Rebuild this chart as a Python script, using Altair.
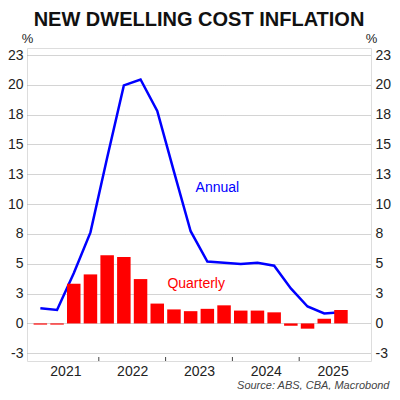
import altair as alt
import pandas as pd

# ---- data ----
quarters = ["2021 Q1", "2021 Q2", "2021 Q3", "2021 Q4",
            "2022 Q1", "2022 Q2", "2022 Q3", "2022 Q4",
            "2023 Q1", "2023 Q2", "2023 Q3", "2023 Q4",
            "2024 Q1", "2024 Q2", "2024 Q3", "2024 Q4",
            "2025 Q1", "2025 Q2", "2025 Q3"]
quarterly = [-0.1, -0.1, 3.4, 4.2, 5.85, 5.7, 3.8, 1.7,
             1.2, 1.05, 1.25, 1.55, 1.1, 1.1, 0.95, -0.2,
             -0.45, 0.4, 1.15]
annual = [1.3, 1.15, 4.3, 7.8, 14.2, 20.4, 20.9, 18.2,
          13.0, 7.9, 5.3, 5.2, 5.1, 5.2, 4.95, 3.0,
          1.45, 0.85, 0.95]
years = [2021, 2022, 2023, 2024, 2025]
y_ticks = [k * 23 / 9 for k in range(-1, 10)]   # labelled 23, 20, 18, ... -3

df = pd.DataFrame({
    "quarter": quarters,
    "idx": list(range(len(quarters))),
    "quarterly": quarterly,
    "annual": annual,
})
year_mid = [4 * i + 1.5 for i in range(len(years))]
year_bounds = pd.DataFrame({"b": [4 * i + 3.5 for i in range(len(years) - 1)]})
labels = pd.DataFrame({
    "text": ["Annual", "Quarterly"],
    "x": [10.6, 9.33],
    "y": [11.6, 3.4],
    "color": ["#0000ff", "#ff0000"],
})

FONT = "Liberation Sans"
W, H = 344, 313
Y_DOMAIN = [-3.22, 23.6]

year_expr = "'' + (2021 + (datum.value - 1.5) / 4)"

x_enc = alt.X(
    "idx:Q",
    scale=alt.Scale(domain=[-0.5, 19.5], nice=False, zero=False),
    axis=alt.Axis(
        values=year_mid, labelExpr=year_expr, ticks=False, grid=False,
        domain=False, labelFontSize=14, labelColor="#222", labelPadding=3,
        labelFont=FONT,
        title="Source: ABS, CBA, Macrobond", titleFontStyle="italic",
        titleFontWeight="normal", titleFontSize=11, titleColor="#444",
        titleAlign="right", titleAnchor="start", titleX=362, titleY=27,
        titleBaseline="alphabetic", titleFont=FONT,
    ),
)

y_scale = alt.Scale(domain=Y_DOMAIN, nice=False, zero=False)
lab_expr = "'' + round(datum.value)"

left_axis = alt.Axis(
    values=y_ticks, labelExpr=lab_expr, orient="left", ticks=False,
    domain=False, grid=True, gridColor="#a8a8a8", gridDash=[1, 1],
    gridWidth=1, labelFontSize=14, labelColor="#222", labelPadding=4,
    labelFont=FONT,
    title="%", titleAngle=0, titleX=0, titleY=-6, titleAlign="center",
    titleBaseline="alphabetic", titleFontSize=13, titleFontWeight="normal",
    titleColor="#222", titleFont=FONT,
)
right_axis = alt.Axis(
    values=y_ticks, labelExpr=lab_expr, orient="right", ticks=False,
    domain=False, grid=False, labelFontSize=14, labelColor="#222",
    labelPadding=4, labelFont=FONT,
    title="%", titleAngle=0, titleX=0, titleY=-6, titleAlign="center",
    titleBaseline="alphabetic", titleFontSize=13, titleFontWeight="normal",
    titleColor="#222", titleFont=FONT,
)

base = alt.Chart(df)

line = base.mark_line(color="#0000ff", strokeWidth=2.5).encode(
    x=x_enc,
    y=alt.Y("annual:Q", scale=y_scale, axis=right_axis),
)

bars = base.mark_bar(color="#ff0000", size=13.5).encode(
    x=x_enc,
    y=alt.Y("quarterly:Q", scale=y_scale, axis=left_axis),
    y2=alt.datum(0),
)

ticks = alt.Chart(year_bounds).mark_rule(color="#444", strokeWidth=1).encode(
    x=alt.X("b:Q", scale=alt.Scale(domain=[-0.5, 19.5], nice=False, zero=False)),
    y=alt.value(H),
    y2=alt.value(H - 4),
)

text = alt.Chart(labels).mark_text(fontSize=14, font=FONT, align="center",
                                   baseline="middle").encode(
    x=alt.X("x:Q"),
    y=alt.Y("y:Q", axis=None),
    text="text:N",
    color=alt.Color("color:N", scale=None),
)

chart = alt.layer(line, bars, ticks, text).resolve_axis(
    y="independent"
).properties(
    width=W,
    height=H,
    autosize=alt.AutoSizeParams(type="none"),
    padding={"left": 19, "top": 40, "right": 21, "bottom": 29},
    title=alt.TitleParams(
        "NEW DWELLING COST INFLATION", font=FONT, fontSize=20,
        fontWeight="bold", color="#111", anchor="middle", offset=2,
    ),
).configure_view(
    stroke="#444", strokeWidth=1
).configure(background="white")

chart.save("out.html", embed_options={"renderer": "svg", "actions": False})
